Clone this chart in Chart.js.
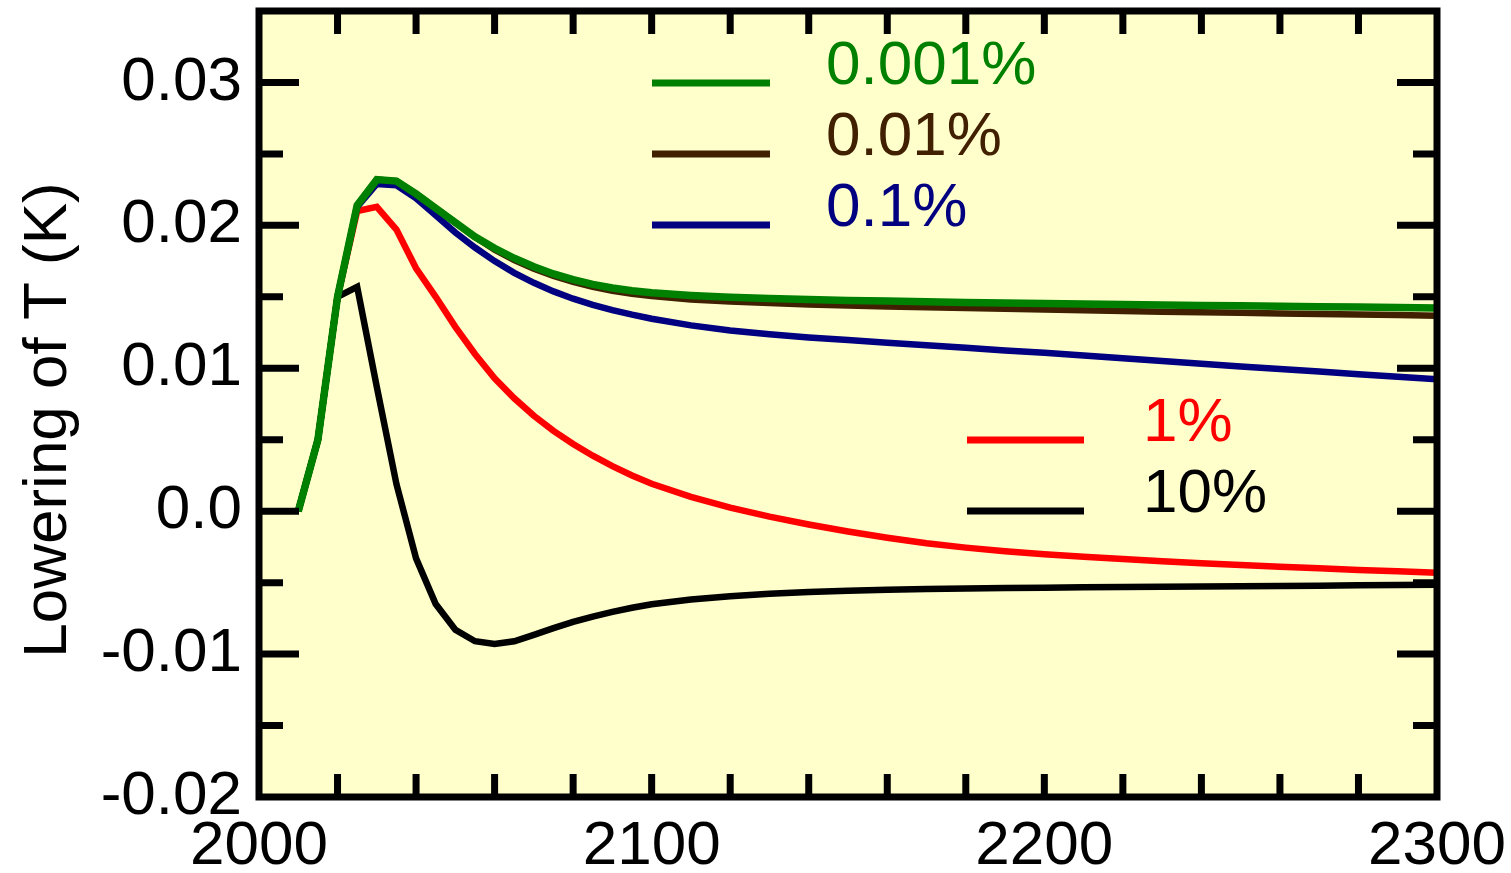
<!DOCTYPE html>
<html><head><meta charset="utf-8">
<script src="https://cdn.jsdelivr.net/npm/chart.js@4.4.0/dist/chart.umd.min.js"></script>
<style>html,body{margin:0;padding:0;background:#fff;overflow:hidden}</style>
</head><body>
<canvas id="c" width="1511" height="873" style="display:block;width:1511px;height:873px"></canvas>
<script>
// ---- data ----
const years = [2010,2015,2020,2025,2030,2035,2040,2045,2050,2055,2060,2065,2070,2075,2080,2085,2090,2095,2100,
  2110,2120,2130,2140,2150,2160,2170,2180,2190,2200,2210,2220,2230,2240,2250,2260,2270,2280,2290,2300];
const s0001 = [0,0.0050,0.0150,0.0214,0.0232,0.0231,0.0222,0.0212,0.0202,0.0192,0.0184,0.0177,0.0171,0.0166,0.0162,0.01587,0.01562,0.01543,0.01528,
  0.01510,0.01497,0.01488,0.01481,0.01475,0.01470,0.01465,0.01461,0.01457,0.01453,0.01449,0.01446,0.01443,0.01440,0.01437,0.01434,0.01431,0.01428,0.01425,0.01422];
const s001 = [0,0.0050,0.0150,0.0214,0.0232,0.0231,0.0222,0.0212,0.0202,0.0192,0.01830,0.01758,0.01697,0.01646,0.01604,0.01570,0.01543,0.01522,0.01505,
  0.01482,0.01467,0.01456,0.01447,0.01440,0.01433,0.01427,0.01421,0.01416,0.01411,0.01406,0.01401,0.01396,0.01392,0.01388,0.01384,0.01380,0.01376,0.01372,0.01368];
const s01 = [0,0.0050,0.0150,0.0213,0.0229,0.0228,0.0219,0.0207,0.0195,0.01845,0.01750,0.01668,0.01598,0.01538,0.01487,0.01444,0.01407,0.01375,0.01347,
  0.01300,0.01265,0.01238,0.01216,0.01198,0.01179,0.01161,0.01143,0.01125,0.01108,0.01089,0.01070,0.01051,0.01032,0.01013,0.00995,0.00977,0.00959,0.00941,0.00923];
const s1 = [0,0.0050,0.0150,0.0210,0.0213,0.0197,0.0170,0.0150,0.0129,0.0110,0.0093,0.00790,0.00668,0.00562,0.00470,0.00388,0.00315,0.00250,0.00192,
  0.00100,0.00025,-0.00038,-0.00093,-0.00142,-0.00186,-0.00224,-0.00255,-0.00280,-0.00301,-0.00319,-0.00335,-0.00350,-0.00364,-0.00377,-0.00389,-0.00400,-0.00411,-0.00421,-0.00431];
const s10 = [0,0.0050,0.0150,0.0157,0.0087,0.0019,-0.0033,-0.0065,-0.0083,-0.0091,-0.0093,-0.00910,-0.00865,-0.00818,-0.00775,-0.00738,-0.00705,-0.00676,-0.00651,
  -0.00618,-0.00595,-0.00578,-0.00566,-0.00557,-0.00550,-0.00545,-0.00541,-0.00538,-0.00535,-0.00533,-0.00531,-0.00529,-0.00527,-0.00525,-0.00523,-0.00521,-0.00519,-0.00517,-0.00515];

const seriesNames = ['0.001%','0.01%','0.1%','1%','10%'];
const seriesColors = ['#008000','#402000','#000080','#ff0000','#000000'];
const seriesValues = [s0001, s001, s01, s1, s10];

const xTickValues = [2000,2100,2200,2300];
const xTickLabels = ['2000','2100','2200','2300'];
const yTickValues = [-0.02,-0.01,0,0.01,0.02,0.03];
const yTickLabels = ['-0.02','-0.01','0.0','0.01','0.02','0.03'];
const yTitle = 'Lowering of T (K)';

const FONT = '"Liberation Sans", Arial, Helvetica, sans-serif';
const FSIZE = 62;

const datasets = seriesValues.map((vals, i) => ({
  label: seriesNames[i],
  data: years.map((y, j) => ({x: y, y: vals[j]})),
  borderColor: seriesColors[i],
  backgroundColor: seriesColors[i],
  borderWidth: i === 0 ? 7.5 : 6.5,
  pointRadius: 0,
  tension: 0,
  fill: false
}));

const framePlugin = {
  id: 'frame',
  beforeDraw(chart) {
    const {ctx, chartArea: a} = chart;
    ctx.save();
    ctx.fillStyle = '#ffffcc';
    ctx.fillRect(a.left, a.top, a.right - a.left, a.bottom - a.top);
    ctx.restore();
  },
  afterDatasetsDraw(chart) {
    const {ctx, chartArea: a, scales} = chart;
    const xs = scales.x, ys = scales.y;
    ctx.save();
    ctx.strokeStyle = '#000';
    ctx.lineCap = 'butt';
    ctx.lineWidth = 7;
    for (let v = 2020; v < 2300; v += 20) {
      const px = xs.getPixelForValue(v);
      ctx.beginPath();
      ctx.moveTo(px, a.bottom); ctx.lineTo(px, a.bottom - 23);
      ctx.moveTo(px, a.top); ctx.lineTo(px, a.top + 23);
      ctx.stroke();
    }
    for (let i = -3; i <= 6; i++) {
      const v = i * 0.005;
      const py = ys.getPixelForValue(v);
      const len = (i % 2 === 0) ? 40 : 24;
      ctx.beginPath();
      ctx.moveTo(a.left, py); ctx.lineTo(a.left + len, py);
      ctx.moveTo(a.right, py); ctx.lineTo(a.right - len, py);
      ctx.stroke();
    }
    ctx.lineWidth = 7;
    ctx.lineJoin = 'miter';
    ctx.strokeRect(a.left, a.top, a.right - a.left, a.bottom - a.top);

    // legend
    ctx.font = FSIZE + 'px ' + FONT;
    ctx.textAlign = 'left';
    ctx.textBaseline = 'alphabetic';
    const groups = [
      {idx: [0,1,2], x0: 652, x1: 770, tx: 826, y0: 83},
      {idx: [3,4], x0: 967, x1: 1084, tx: 1143, y0: 440}
    ];
    groups.forEach(g => {
      g.idx.forEach((si, k) => {
        const y = g.y0 + 71 * k;
        ctx.strokeStyle = seriesColors[si];
        ctx.lineWidth = 7;
        ctx.beginPath(); ctx.moveTo(g.x0, y); ctx.lineTo(g.x1, y); ctx.stroke();
        ctx.fillStyle = seriesColors[si];
        ctx.fillText(seriesNames[si], g.tx, y + 1);
      });
    });

    // y title
    ctx.fillStyle = '#000';
    ctx.translate(66, 420);
    ctx.rotate(-Math.PI / 2);
    ctx.textAlign = 'center';
    ctx.textBaseline = 'alphabetic';
    ctx.fillText(yTitle, 0, 0);
    ctx.restore();
  }
};

new Chart(document.getElementById('c'), {
  type: 'line',
  data: {datasets},
  options: {
    responsive: false,
    devicePixelRatio: 1,
    animation: false,
    layout: {padding: {left: 0, right: 74, top: 11, bottom: 0}},
    plugins: {legend: {display: false}, tooltip: {enabled: false}},
    scales: {
      x: {
        type: 'linear', min: 2000, max: 2300,
        grid: {display: false, drawTicks: false},
        border: {display: false},
        afterBuildTicks: s => { s.ticks = xTickValues.map(v => ({value: v})); },
        afterFit: s => { s.height = 76; s.paddingLeft = 0; s.paddingRight = 0; },
        ticks: {
          autoSkip: false, maxRotation: 0, padding: 13, color: '#000',
          font: {size: FSIZE, family: FONT},
          callback: v => xTickLabels[xTickValues.indexOf(v)]
        }
      },
      y: {
        type: 'linear', min: -0.02, max: 0.035,
        grid: {display: false, drawTicks: false},
        border: {display: false},
        afterBuildTicks: s => { s.ticks = yTickValues.map(v => ({value: v})); },
        afterFit: s => { s.width = 259; s.paddingTop = 0; s.paddingBottom = 0; },
        ticks: {
          autoSkip: false, padding: 17, color: '#000',
          font: {size: FSIZE, family: FONT},
          callback: v => { const i = yTickValues.findIndex(t => Math.abs(t - v) < 1e-9); return i >= 0 ? yTickLabels[i] : ''; }
        }
      }
    }
  },
  plugins: [framePlugin]
});
</script>
</body></html>
